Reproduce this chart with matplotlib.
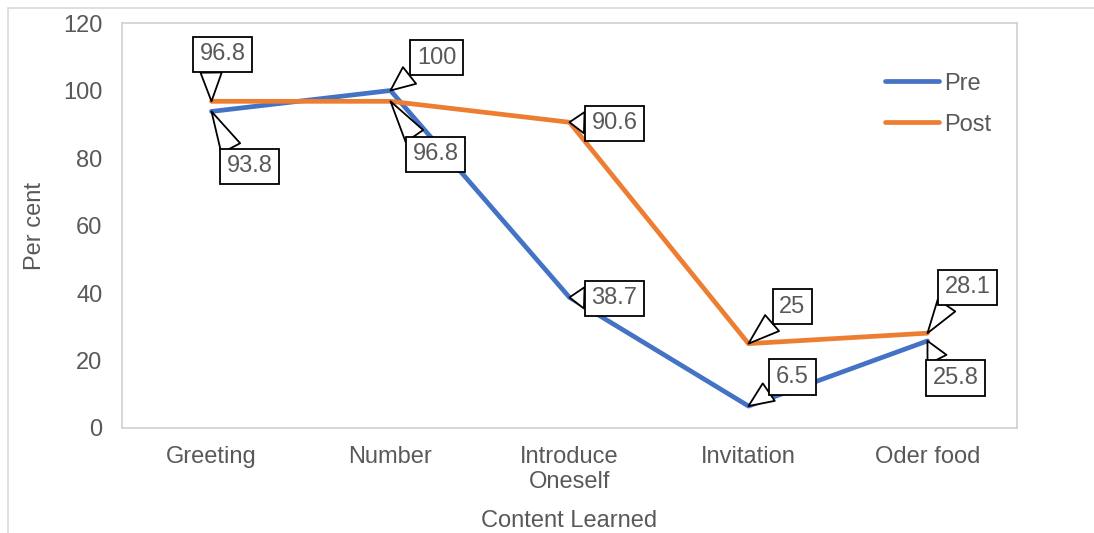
import matplotlib
matplotlib.use("Agg")
import matplotlib.pyplot as plt
from matplotlib.patches import Rectangle

categories = ["Greeting", "Number", "Introduce\nOneself", "Invitation", "Oder food"]
pre = [93.8, 100, 38.7, 6.5, 25.8]
post = [96.8, 96.8, 90.6, 25, 28.1]

# callout offsets in pixels (label box centre relative to point)
pre_offsets = [(38, -55), (46, 33), (45, -1), (44, 29), (28, -37)]
post_offsets = [(11, 47), (45, -53), (45, -1), (44, 37), (40, 46)]

plt.rcParams["font.family"] = ["Liberation Sans", "DejaVu Sans"]
text_col = "#595959"
fs = 17

fig = plt.figure(figsize=(10.94, 5.33), dpi=100)
ax = fig.add_axes([0.1115, 0.197, 0.8181, 0.7598])

# outer chart border (partly cut off at right/bottom)
fig.patches.append(Rectangle((8 / 1094, -0.1), 1.2, 0.1 + (533 - 8) / 533,
                             transform=fig.transFigure, fill=False,
                             ec="#d9d9d9", lw=1.2))

x = list(range(len(categories)))
ax.plot(x, pre, color="#4472C4", lw=3.4, label="Pre", solid_capstyle="round")
ax.plot(x, post, color="#ED7D31", lw=3.4, label="Post", solid_capstyle="round")

ax.set_xlim(-0.5, len(categories) - 0.5)
ax.set_ylim(0, 120)
ax.set_yticks(range(0, 121, 20))
ax.set_xticks(x)
ax.set_xticklabels(categories, linespacing=1.2)
ax.tick_params(length=0, labelsize=fs, colors=text_col)
ax.tick_params(axis="y", pad=14)
ax.tick_params(axis="x", pad=13)
for s in ax.spines.values():
    s.set_color("#d0d0d0")
    s.set_linewidth(1.2)

ax.set_ylabel("Per cent", fontsize=fs, color=text_col, labelpad=12)
ax.set_xlabel("Content Learned", fontsize=fs, color=text_col, labelpad=12)

def callout(xi, yi, off, val):
    dx, dy = off
    rx = 0.25 if dx > 0 else 0.75
    ry = 0.3 if dy > 20 else (0.7 if dy < -20 else 0.5)
    ax.annotate(f"{val:g}", xy=(xi, yi), xytext=off, textcoords="offset pixels",
                ha="center", va="center", fontsize=fs, color=text_col,
                bbox=dict(boxstyle="square,pad=0.28", fc="white", ec="black", lw=1.3),
                arrowprops=dict(arrowstyle="wedge,tail_width=0.9,shrink_factor=0.5",
                                fc="white", ec="black", lw=1.3, relpos=(rx, ry),
                                shrinkA=0, shrinkB=0))

for i in x:
    callout(i, pre[i], pre_offsets[i], pre[i])
    callout(i, post[i], post_offsets[i], post[i])

leg = ax.legend(loc="upper right", bbox_to_anchor=(0.995, 0.93), frameon=False,
                fontsize=fs, handlelength=2.3, handletextpad=0.2, labelspacing=0.8)
for t in leg.get_texts():
    t.set_color(text_col)

fig.savefig("out.png", dpi=100)
